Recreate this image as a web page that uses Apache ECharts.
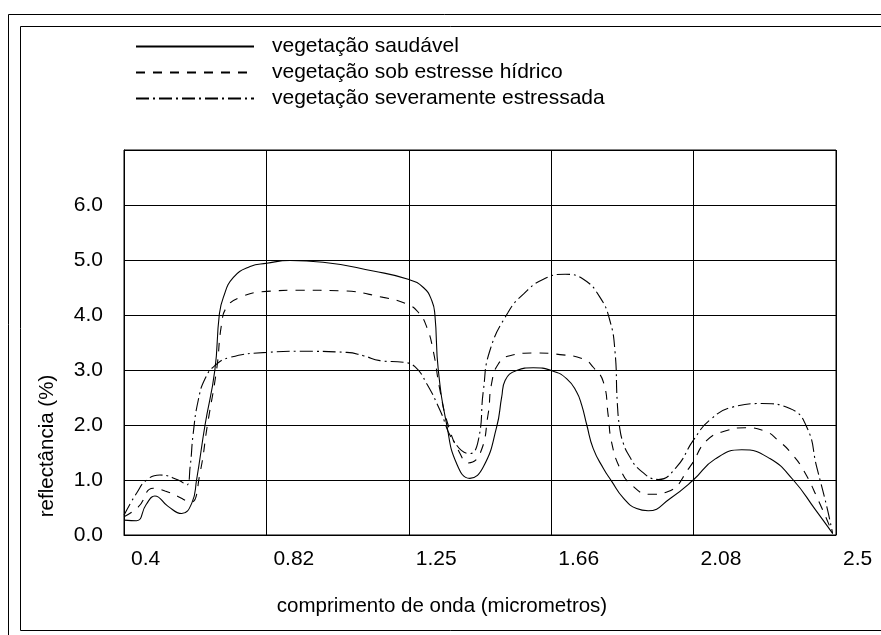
<!DOCTYPE html>
<html>
<head>
<meta charset="utf-8">
<script src="https://cdn.jsdelivr.net/npm/echarts@6/dist/echarts.min.js"></script>
<style>
  html, body { margin: 0; padding: 0; background: #fff; }
  #chart { width: 881px; height: 635px; }
</style>
</head>
<body>
<div id="chart"></div>
<script>
// Spectral reflectance curves (wavelength in micrometres, reflectance in %)
const xTickLabels = ['0.4', '0.82', '1.25', '1.66', '2.08', '2.5'];
const seriesNames = [
  'vegetação saudável',
  'vegetação sob estresse hídrico',
  'vegetação severamente estressada'
];

const saudavel = [
  [0.400, 0.27], [0.437, 0.26], [0.465, 0.55], [0.491, 0.71], [0.530, 0.52],
  [0.570, 0.39], [0.600, 0.58], [0.614, 1.00], [0.639, 2.00], [0.668, 3.00],
  [0.681, 4.00], [0.693, 4.32], [0.722, 4.68], [0.772, 4.88], [0.821, 4.94],
  [0.890, 4.99], [0.987, 4.96], [1.135, 4.80], [1.238, 4.65], [1.283, 4.50],
  [1.308, 4.26], [1.317, 4.00], [1.327, 3.00], [1.352, 2.00], [1.381, 1.30],
  [1.420, 1.03], [1.460, 1.24], [1.499, 1.96], [1.514, 2.51], [1.524, 2.81],
  [1.558, 2.99], [1.607, 3.04], [1.661, 2.99], [1.706, 2.84], [1.735, 2.60],
  [1.750, 2.36], [1.765, 2.00], [1.784, 1.57], [1.814, 1.21], [1.838, 0.98],
  [1.873, 0.67], [1.912, 0.48], [1.946, 0.44], [2.010, 0.66], [2.079, 1.00],
  [2.143, 1.38], [2.222, 1.55], [2.305, 1.39], [2.374, 1.00], [2.438, 0.47],
  [2.490, 0.03]
];

const estresseHidrico = [
  [0.400, 0.33], [0.442, 0.51], [0.486, 0.85], [0.521, 0.80], [0.559, 0.70],
  [0.585, 0.62], [0.600, 0.60], [0.624, 1.12], [0.646, 2.00], [0.673, 3.00],
  [0.688, 3.84], [0.703, 4.14], [0.742, 4.32], [0.821, 4.43], [0.919, 4.45],
  [1.037, 4.44], [1.165, 4.32], [1.234, 4.20], [1.268, 4.05], [1.293, 3.78],
  [1.312, 3.35], [1.332, 2.63], [1.356, 2.00], [1.391, 1.48], [1.415, 1.31],
  [1.450, 1.48], [1.474, 2.20], [1.484, 2.75], [1.504, 3.11], [1.538, 3.26],
  [1.607, 3.31], [1.686, 3.28], [1.755, 3.20], [1.784, 3.05], [1.814, 2.78],
  [1.828, 2.18], [1.838, 1.69], [1.863, 1.21], [1.897, 0.91], [1.951, 0.74],
  [2.005, 0.79], [2.069, 1.24], [2.119, 1.72], [2.178, 1.90], [2.232, 1.95],
  [2.286, 1.90], [2.335, 1.69], [2.369, 1.48], [2.404, 1.18], [2.448, 0.63],
  [2.490, 0.03]
];

const severamente = [
  [0.400, 0.36], [0.437, 0.76], [0.467, 1.00], [0.506, 1.09], [0.560, 1.00],
  [0.585, 0.91], [0.595, 1.24], [0.604, 1.84], [0.619, 2.45], [0.639, 2.84],
  [0.668, 3.08], [0.713, 3.23], [0.821, 3.32], [0.919, 3.34], [1.057, 3.32],
  [1.106, 3.26], [1.155, 3.17], [1.224, 3.14], [1.258, 3.06], [1.293, 2.75],
  [1.332, 2.27], [1.371, 1.72], [1.420, 1.48], [1.445, 1.72], [1.460, 2.63],
  [1.479, 3.35], [1.533, 4.05], [1.578, 4.38], [1.637, 4.65], [1.701, 4.74],
  [1.755, 4.65], [1.804, 4.32], [1.833, 3.90], [1.848, 3.35], [1.855, 2.40],
  [1.862, 1.95], [1.872, 1.68], [1.889, 1.45], [1.922, 1.18], [1.976, 1.01],
  [2.030, 1.24], [2.079, 1.72], [2.128, 2.09], [2.197, 2.33], [2.281, 2.39],
  [2.364, 2.30], [2.414, 1.96], [2.443, 1.24], [2.473, 0.51], [2.490, 0.03]
];

const FONT = '"Liberation Sans", Arial, sans-serif';
const X_MIN = 0.4, X_MAX = 2.5, X_STEP = 0.42;

const chart = echarts.init(document.getElementById('chart'), null, { renderer: 'canvas' });

function lineSeries(name, data, dash) {
  return {
    name: name,
    type: 'line',
    data: data,
    symbol: 'none',
    smooth: 0.5,
    lineStyle: { color: '#000', width: 1.1, type: dash },
    itemStyle: { color: '#000', opacity: 0 },
    emphasis: { disabled: true },
    animation: false
  };
}

chart.setOption({
  backgroundColor: '#fff',
  animation: false,
  textStyle: { fontFamily: FONT, color: '#000' },
  legend: {
    orient: 'vertical',
    left: 130,
    top: 31,
    itemWidth: 118,
    itemHeight: 14,
    itemGap: 5,
    data: seriesNames,
    selectedMode: false,
    itemStyle: { opacity: 0 },
    textStyle: { fontFamily: FONT, fontSize: 21, color: '#000', padding: [0, 0, 0, 13] }
  },
  grid: {
    left: 124, right: 45, top: 150, bottom: 100,
    show: true, borderColor: '#000', borderWidth: 1
  },
  xAxis: {
    type: 'value',
    min: X_MIN,
    max: X_MAX,
    interval: X_STEP,
    axisLine: { show: true, lineStyle: { color: '#000' } },
    axisTick: { show: false },
    splitLine: { show: true, lineStyle: { color: '#000', width: 1 } },
    axisLabel: {
      show: true,
      showMinLabel: true,
      showMaxLabel: true,
      align: 'left',
      margin: 14,
      padding: [0, 0, 0, 7],
      fontFamily: FONT,
      fontSize: 21,
      color: '#000',
      formatter: function (v) {
        const i = Math.round((v - X_MIN) / X_STEP);
        return xTickLabels[i] !== undefined ? xTickLabels[i] : '';
      }
    }
  },
  yAxis: {
    type: 'value',
    min: 0,
    max: 7,
    interval: 1,
    axisLine: { show: true, lineStyle: { color: '#000' } },
    axisTick: { show: false },
    splitLine: { show: true, lineStyle: { color: '#000', width: 1 } },
    axisLabel: {
      margin: 21,
      padding: [0, 0, 14, 0],
      fontFamily: FONT,
      fontSize: 21,
      color: '#000',
      formatter: function (v) { return v >= 7 ? '' : v.toFixed(1); }
    }
  },
  graphic: [
    // double frame around the figure
    { type: 'line', shape: { x1: 8.5, y1: 14.5, x2: 881, y2: 14.5 }, style: { stroke: '#000', lineWidth: 1 } },
    { type: 'line', shape: { x1: 8.5, y1: 14.5, x2: 8.5, y2: 635 }, style: { stroke: '#000', lineWidth: 1 } },
    { type: 'line', shape: { x1: 20.5, y1: 26.5, x2: 881, y2: 26.5 }, style: { stroke: '#000', lineWidth: 1 } },
    { type: 'line', shape: { x1: 20.5, y1: 26.5, x2: 20.5, y2: 630.5 }, style: { stroke: '#000', lineWidth: 1 } },
    { type: 'line', shape: { x1: 20.5, y1: 630.5, x2: 881, y2: 630.5 }, style: { stroke: '#000', lineWidth: 1 } },
    // axis titles
    {
      type: 'text',
      x: 47, y: 446,
      rotation: Math.PI / 2,
      style: {
        text: 'reflectância (%)',
        font: '20.5px ' + FONT,
        fill: '#000',
        align: 'center',
        verticalAlign: 'middle'
      }
    },
    {
      type: 'text',
      x: 442, y: 606,
      style: {
        text: 'comprimento de onda (micrometros)',
        font: '20.5px ' + FONT,
        fill: '#000',
        align: 'center',
        verticalAlign: 'middle'
      }
    }
  ],
  series: [
    lineSeries(seriesNames[0], saudavel, 'solid'),
    lineSeries(seriesNames[1], estresseHidrico, [9, 8]),
    lineSeries(seriesNames[2], severamente, [13, 4, 2, 4])
  ]
});
</script>
</body>
</html>
